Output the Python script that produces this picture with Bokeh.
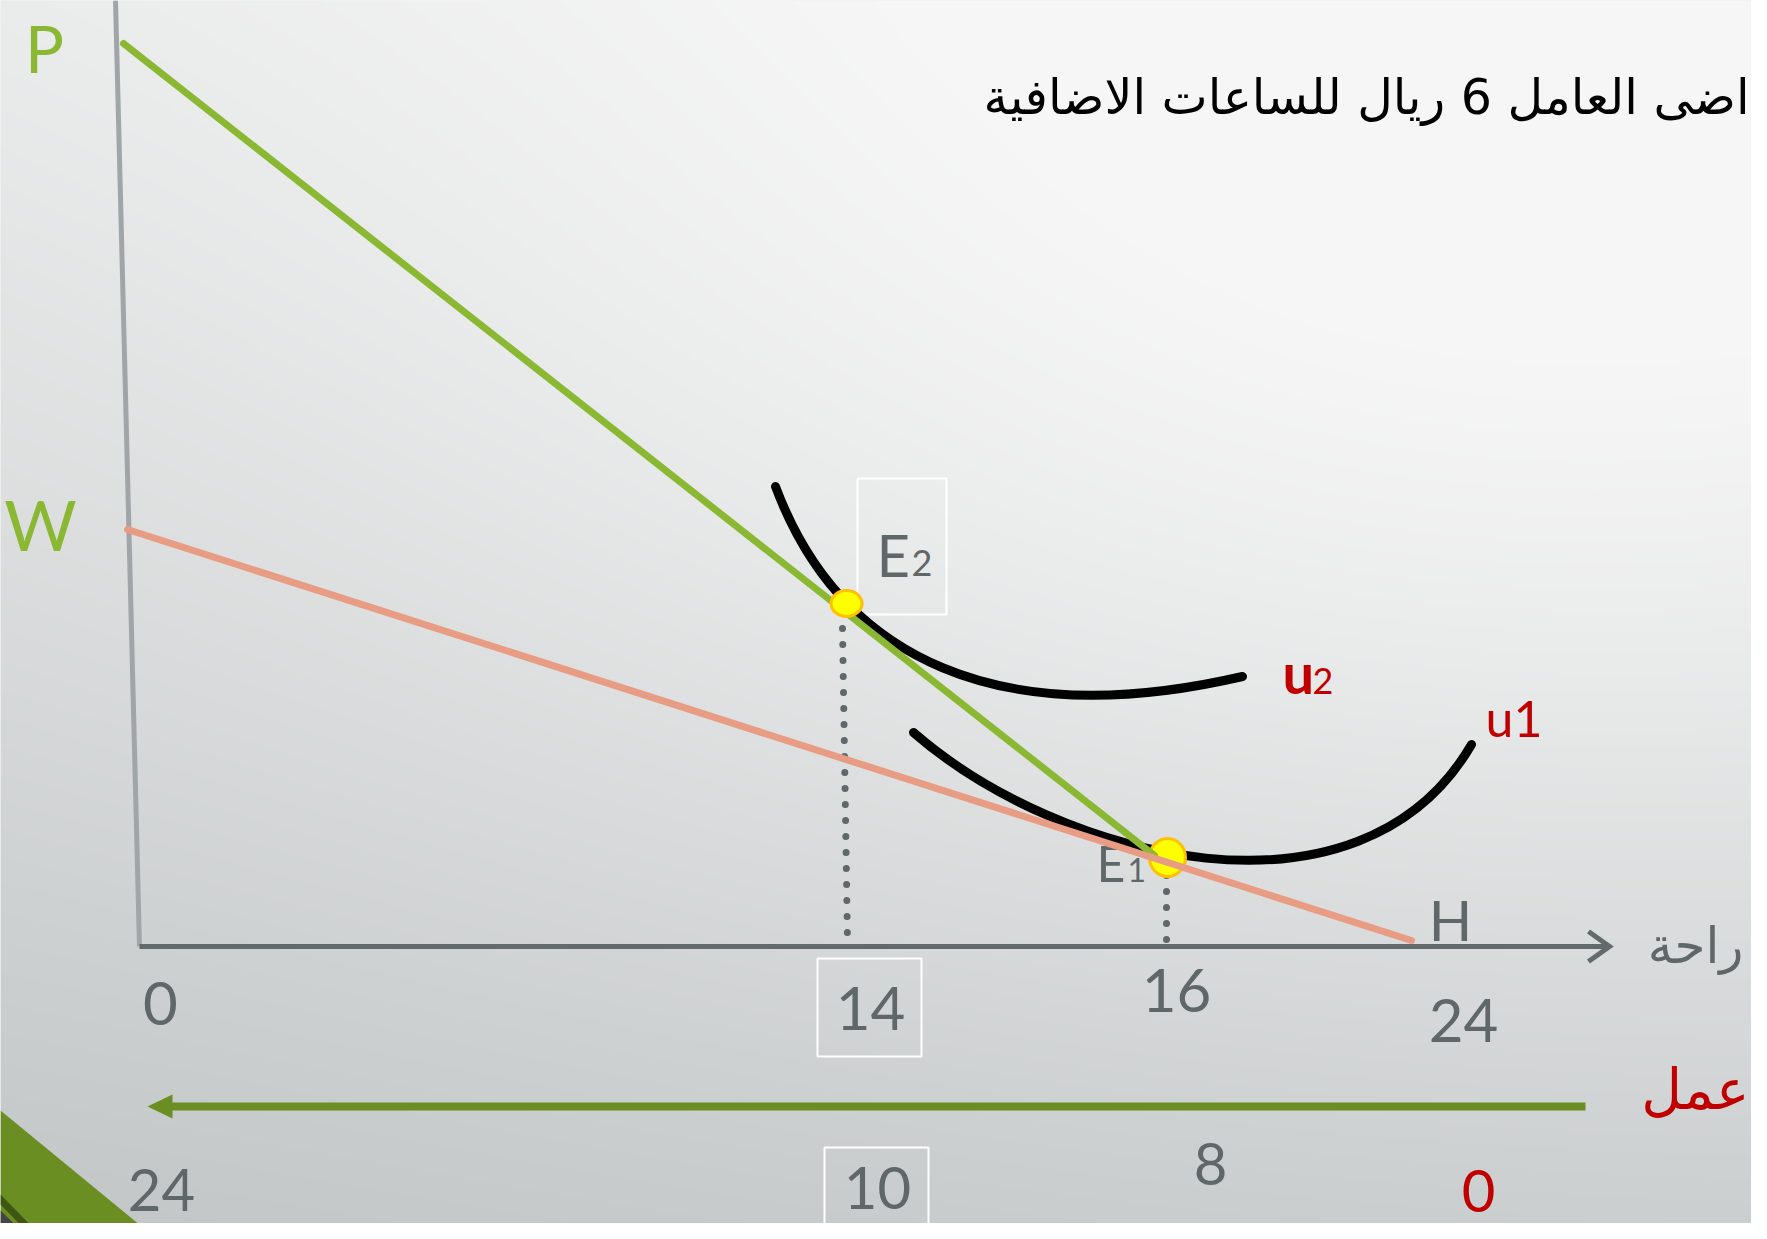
import numpy as np
from bokeh.plotting import figure
from bokeh.models import Range1d
from bokeh.core.properties import value
from bokeh.embed import file_html
from bokeh.resources import INLINE

# ---------------- texts / values ----------------
title_text = "اضى العامل 6 ريال للساعات الاضافية"
leisure_axis_label = "راحة"
work_axis_label = "عمل"
price_labels = ["P", "W"]
leisure_ticks = ["0", "14", "16", "24"]
work_ticks = ["24", "10", "8", "0"]
end_label = "H"
eq_main = ["E", "E"]
eq_sub = ["2", "1"]

# ---------------- diagram geometry (schematic units = slide pixels) ----------------
REF_W, REF_H = 1767, 1239
price_x = [44, 40]
price_y = [47, 523]

yaxis_x = [115, 139]
yaxis_y = [0, 946]
xaxis_x = [139, 1607]
xaxis_y = [946, 946]
chev_x = [1588, 1609, 1588]
chev_y = [931, 946, 961]

green_x = [123, 1154]
green_y = [43, 855]
orange_x = [127, 1411]
orange_y = [529, 940]

# indifference curves u2, u1 as cubic beziers
ic_x0 = [775, 913]
ic_y0 = [486, 732]
ic_cx0 = [840, 1060]
ic_cy0 = [660, 860]
ic_cx1 = [1000, 1360]
ic_cy1 = [732, 935]
ic_x1 = [1242, 1471]
ic_y1 = [676, 744]

# equilibrium points E2, E1
eq_x = [846, 1167]
eq_y = [603, 857]
eq_w = [31, 36]
eq_h = [26, 38]

# leisure ticks row
lt_x = [160, 870, 1176, 1463]
lt_y = [1003, 1008, 990, 1020]
# work ticks row
wt_x = [161, 877, 1210, 1478]
wt_y = [1189, 1187, 1163, 1190]
wt_col = ["#5f6769", "#5f6769", "#5f6769", "#c00000"]

GRAY = "#5f6769"
RED = "#c00000"
GREEN = "#8ab833"
SALMON = "#e89c84"
OLIVE = "#6b8e23"
LAT = value("Lato")
AR = value("DejaVu Sans")

p = figure(width=1751, height=1223, x_range=Range1d(0, 1751), y_range=Range1d(1223, 0),
           x_axis_type=None, y_axis_type=None, toolbar_location=None,
           output_backend="svg", min_border=0, outline_line_color=None,
           background_fill_color="#e6e7e8", border_fill_color="#e6e7e8")
p.grid.visible = False

# ---------------- background gradient ----------------
step = 4
gx = np.arange(0, REF_W, step) + step / 2
gy = np.arange(0, REF_H, step) + step / 2
XX, YY = np.meshgrid(gx, gy)
t_lin = 0.17 + 0.73 * (YY / REF_H) + 0.11 * ((REF_W - XX) / REF_W)
bump = 0.4 * np.exp(-((XX - 1480) ** 2 / (2 * 850 ** 2) + (YY - 380) ** 2 / (2 * 480 ** 2)))
t = np.clip(t_lin - bump, 0, 1)
c0 = np.array([246, 246, 246])
c1 = np.array([194, 198, 199])
rgb = (c0[None, None, :] + (c1 - c0)[None, None, :] * t[..., None]).astype(np.uint8)
img = np.empty((len(gy), len(gx)), dtype=np.uint32)
view = img.view(dtype=np.uint8).reshape((len(gy), len(gx), 4))
view[..., 0] = rgb[..., 0]
view[..., 1] = rgb[..., 1]
view[..., 2] = rgb[..., 2]
view[..., 3] = 255
p.image_rgba(image=[img], x=0, y=0, dw=REF_W, dh=REF_H)

# ---------------- slide decoration bottom-left ----------------
p.patch([0, 157, 0], [1110, 1239, 1239], fill_color=OLIVE, line_color=None)
p.patch([0, 44, 34, 0], [1194, 1239, 1239, 1204], fill_color="#3f5612", line_color=None)
p.patch([0, 30, 0], [1210, 1239, 1239], fill_color="#444444", line_color=None)

# ---------------- axes ----------------
p.line(yaxis_x, yaxis_y, line_color="#a0a5a7", line_width=5)
p.line(xaxis_x, xaxis_y, line_color="#626a6c", line_width=5)
p.line(chev_x, chev_y, line_color="#626a6c", line_width=5, line_join="miter")

# ---------------- labels ----------------
p.text(x=price_x[:1], y=price_y[:1], text=price_labels[:1], text_font=LAT, text_font_size="65px",
       text_color=GREEN, text_align="center", text_baseline="middle")
p.text(x=price_x[1:], y=price_y[1:], text=price_labels[1:], text_font=LAT, text_font_size="70px",
       text_color=GREEN, text_align="center", text_baseline="middle")
p.text(x=[1749], y=[97], text=[title_text], text_font=AR, text_font_size="49px",
       text_color="black", text_align="right", text_baseline="middle")
p.text(x=[1743], y=[945], text=[leisure_axis_label], text_font=AR, text_font_size="50px",
       text_color=GRAY, text_align="right", text_baseline="middle")
p.text(x=[1749], y=[1089], text=[work_axis_label], text_font=AR, text_font_size="56px",
       text_color=RED, text_align="right", text_baseline="middle")
p.text(x=[1450], y=[918], text=[end_label], text_font=LAT, text_font_size="57px",
       text_color=GRAY, text_align="center", text_baseline="middle")
p.text(x=lt_x, y=lt_y, text=leisure_ticks, text_font=LAT, text_font_size="60px",
       text_color=GRAY, text_align="center", text_baseline="middle")
p.text(x=wt_x, y=wt_y, text=work_ticks, text_font=LAT, text_font_size="58px",
       text_color=wt_col, text_align="center", text_baseline="middle")

# E labels
p.text(x=[876], y=[554], text=[eq_main[0]], text_font=LAT, text_font_size="58px",
       text_color=GRAY, text_align="left", text_baseline="middle")
p.text(x=[911], y=[562], text=[eq_sub[0]], text_font=LAT, text_font_size="36px",
       text_color=GRAY, text_align="left", text_baseline="middle")
p.text(x=[1096], y=[862], text=[eq_main[1]], text_font=LAT, text_font_size="50px",
       text_color=GRAY, text_align="left", text_baseline="middle")
p.text(x=[1127], y=[869], text=[eq_sub[1]], text_font=LAT, text_font_size="32px",
       text_color=GRAY, text_align="left", text_baseline="middle")

# curve labels u2 / u1
p.text(x=[1282], y=[672], text=["u"], text_font=LAT, text_font_size="56px", text_font_style="bold",
       text_color=RED, text_align="left", text_baseline="middle")
p.text(x=[1312], y=[680], text=["2"], text_font=LAT, text_font_size="36px",
       text_color=RED, text_align="left", text_baseline="middle")
p.text(x=[1485], y=[717], text=["u1"], text_font=LAT, text_font_size="50px",
       text_color=RED, text_align="left", text_baseline="middle")

# boxes
p.quad(left=[817, 824, 857], right=[921, 928, 946], top=[958, 1147, 478], bottom=[1056, 1250, 614],
       fill_alpha=0, line_color="white", line_width=2)

# work-hours arrow
p.line([1585, 168], [1106, 1106], line_color=OLIVE, line_width=8)
p.patch([147, 172, 172], [1106, 1094, 1118], fill_color=OLIVE, line_color=None)

# dotted projections
p.line([842, 847], [628, 940], line_color=GRAY, line_width=7, line_dash="0 16", line_cap="round")
p.line([1166, 1166], [875, 940], line_color=GRAY, line_width=7, line_dash="0 16", line_cap="round")

# indifference curves
p.bezier(x0=ic_x0, y0=ic_y0, x1=ic_x1, y1=ic_y1, cx0=ic_cx0, cy0=ic_cy0, cx1=ic_cx1, cy1=ic_cy1,
         line_color="black", line_width=9, line_cap="round")

# E1 point, budget lines, E2 point
p.ellipse(x=[eq_x[1]], y=[eq_y[1]], width=[eq_w[1]], height=[eq_h[1]],
          fill_color="#ffff00", line_color="#ffc000", line_width=3)
p.line(green_x, green_y, line_color=GREEN, line_width=7, line_cap="round")
p.line(orange_x, orange_y, line_color=SALMON, line_width=7, line_cap="round")
p.ellipse(x=[eq_x[0]], y=[eq_y[0]], width=[eq_w[0]], height=[eq_h[0]],
          fill_color="#ffff00", line_color="#ffc000", line_width=3)

open("out.html", "w").write(file_html(p, INLINE))
